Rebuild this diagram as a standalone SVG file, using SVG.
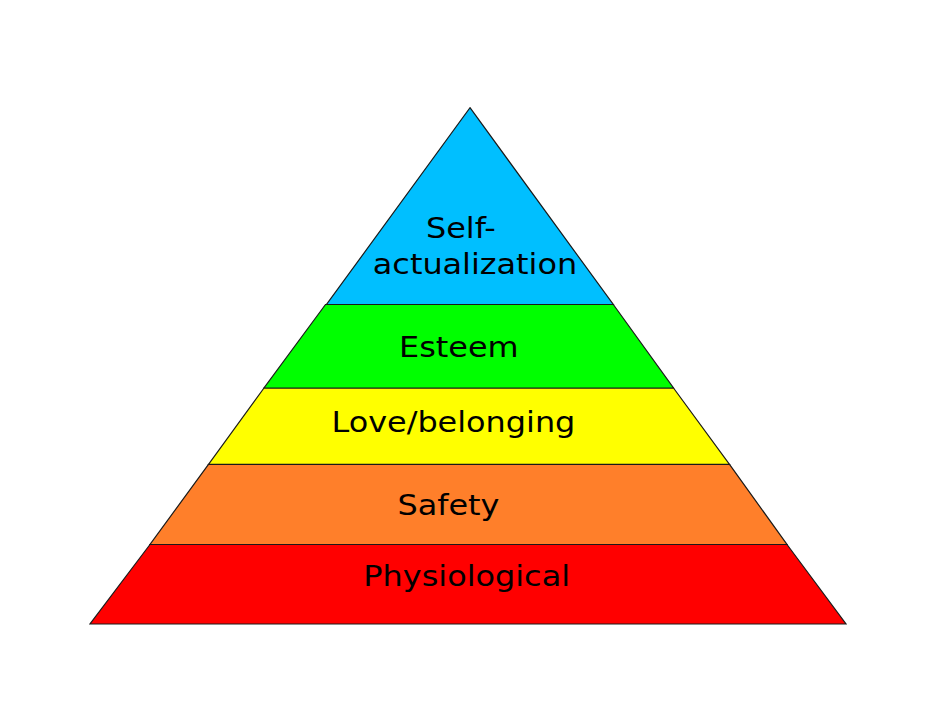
<svg xmlns="http://www.w3.org/2000/svg" width="934" height="722" viewBox="0 0 934 722">
<style>
.band{stroke:#1a1a1a;stroke-width:1.2;stroke-linejoin:miter}
.lbl{font-family:"DejaVu Sans",sans-serif;font-size:29px;fill:#000;text-anchor:middle}
</style>
<rect width="934" height="722" fill="#fff"/>
<g id="physiological">
<polygon class="band" fill="#ff0000" points="150,544.5 787,544.5 846,624 90,624"/>
<text class="lbl" transform="translate(466.7,586) scale(1.1,1)">Physiological</text>
</g>
<g id="safety">
<polygon class="band" fill="#ff7f2a" points="208.5,464.3 729.5,464.3 787,544.5 150,544.5"/>
<text class="lbl" transform="translate(448.5,515) scale(1.1,1)">Safety</text>
</g>
<g id="love">
<polygon class="band" fill="#ffff00" points="264,388 673.5,388 729.5,464.3 208.5,464.3"/>
<text class="lbl" transform="translate(453.4,431.7) scale(1.1,1)">Love/belonging</text>
</g>
<g id="esteem">
<polygon class="band" fill="#00ff00" points="325.5,304.5 613.3,304.5 673.5,388 264,388"/>
<text class="lbl" transform="translate(458.8,357.3) scale(1.1,1)">Esteem</text>
</g>
<g id="self-actualization">
<polygon class="band" fill="#00bfff" points="470,107.7 613.3,304.5 326.5,304.5"/>
<text class="lbl" transform="translate(460.8,238.3) scale(1.1,1)">Self-</text>
<text class="lbl" transform="translate(475,274.3) scale(1.1,1)">actualization</text>
</g>
<g id="connectors"/>
</svg>
